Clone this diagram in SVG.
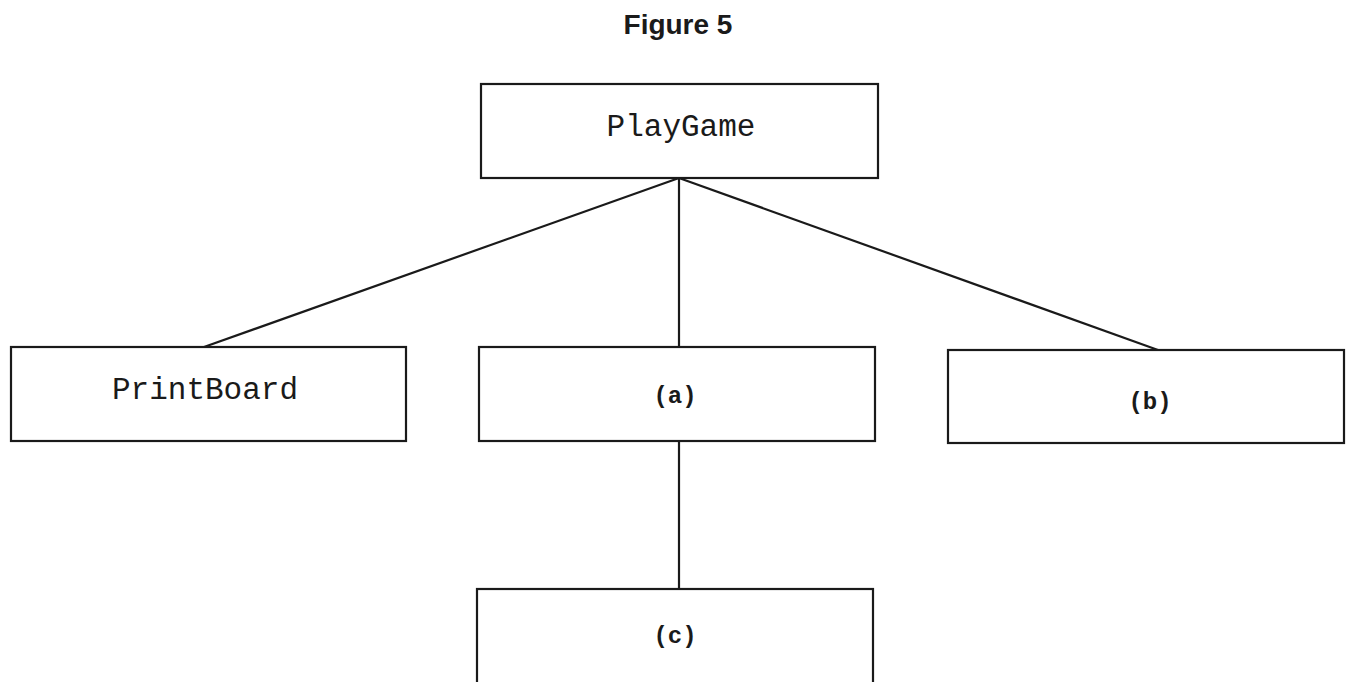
<svg xmlns="http://www.w3.org/2000/svg" width="1349" height="682" viewBox="0 0 1349 682">
<style>
.box{fill:#fff;stroke:#1a1a1a;stroke-width:2.2}
.conn line{stroke:#1a1a1a;stroke-width:2.2}
.code{font-family:"Liberation Mono","Courier New",monospace;font-size:31px;fill:#1a1a1a;text-anchor:middle}
.lbl{font-family:"Liberation Mono","Courier New",monospace;font-size:24px;font-weight:bold;fill:#1a1a1a;text-anchor:middle}
.title{font-family:"Liberation Sans",Arial,sans-serif;font-size:28px;font-weight:bold;fill:#1a1a1a;text-anchor:middle}
</style>
<rect width="1349" height="682" fill="#fff"/>
<text class="title" x="678" y="34">Figure 5</text>
<g id="connectors" class="conn">
<line x1="679" y1="178" x2="204" y2="347"/>
<line x1="679" y1="178" x2="679" y2="347"/>
<line x1="679" y1="178" x2="1158" y2="350"/>
<line x1="679" y1="441" x2="679" y2="589"/>
</g>
<g id="playgame">
<rect class="box" x="481" y="84" width="397" height="94"/>
<text class="code" x="681" y="136">PlayGame</text>
</g>
<g id="printboard">
<rect class="box" x="11" y="347" width="395" height="94"/>
<text class="code" x="205" y="399">PrintBoard</text>
</g>
<g id="node-a">
<rect class="box" x="479" y="347" width="396" height="94"/>
<text class="lbl" x="675" y="403">(a)</text>
</g>
<g id="node-b">
<rect class="box" x="948" y="350" width="396" height="93"/>
<text class="lbl" x="1150" y="409">(b)</text>
</g>
<g id="node-c">
<rect class="box" x="477" y="589" width="396" height="110"/>
<text class="lbl" x="675" y="643">(c)</text>
</g>
</svg>
